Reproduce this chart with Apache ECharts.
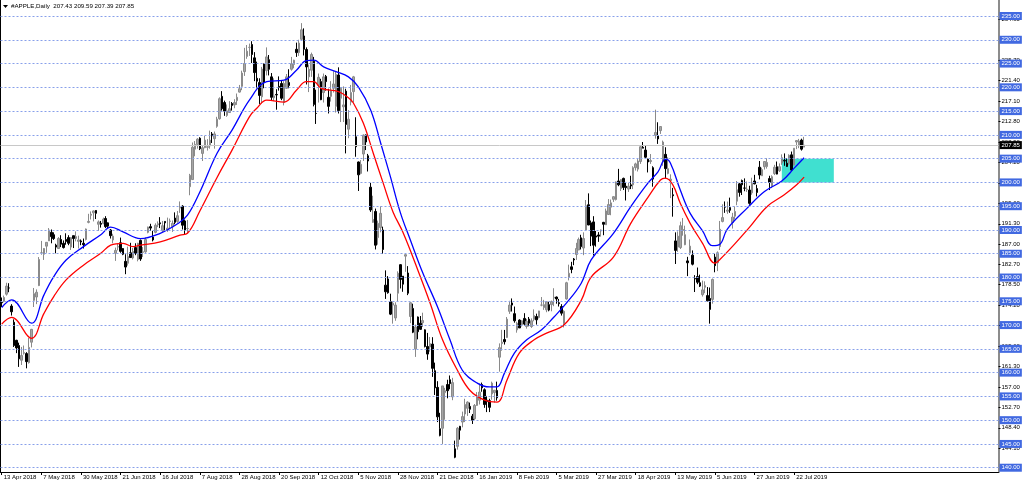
<!DOCTYPE html>
<html><head><meta charset="utf-8">
<script src="https://cdn.jsdelivr.net/npm/echarts@6/dist/echarts.min.js"></script>
<style>html,body{margin:0;padding:0;background:#fff}#c{width:1024px;height:484px}</style>
</head><body><div id="c"></div>
<script>
const titleText = '#APPLE,Daily  207.43 209.59 207.39 207.85';
const xTickLabels = ['13 Apr 2018','7 May 2018','30 May 2018','21 Jun 2018','16 Jul 2018','7 Aug 2018','28 Aug 2018','20 Sep 2018','12 Oct 2018','5 Nov 2018','28 Nov 2018','21 Dec 2018','16 Jan 2019','8 Feb 2019','5 Mar 2019','27 Mar 2019','18 Apr 2019','13 May 2019','5 Jun 2019','27 Jun 2019','22 Jul 2019'];
const tickEvery = 16;
const slotCount = 403;
// [open, high, low, close]
const bars2018 = [
[174.8,175.8,173.8,174.7],[175.0,176.2,174.8,175.8],[176.5,178.9,176.2,178.2],[177.8,178.8,176.9,177.8],[174.0,174.4,172.0,172.8],
[170.6,171.2,165.4,165.7],[166.8,166.9,164.1,165.2],[165.7,166.3,161.2,162.9],[162.6,165.4,161.6,163.6],[164.1,165.7,163.8,164.2],
[164.0,164.3,160.9,162.3],[162.1,167.3,161.9,165.3],[166.4,169.2,165.3,169.1],[175.2,177.8,173.8,176.6],[175.9,177.5,174.4,176.9],
[178.3,184.3,178.2,183.8],[185.2,187.7,184.8,185.2],[184.9,186.2,183.7,186.1],[186.6,187.4,185.2,187.4],[187.7,190.4,187.7,190.0],
[189.5,190.1,187.2,188.6],[189.0,189.5,187.9,188.2],[186.8,187.1,185.1,186.4],[186.1,188.5,186.0,188.2],[188.0,188.9,186.4,187.0],
[187.2,187.8,186.1,186.3],[188.0,189.3,186.9,187.6],[188.4,188.9,186.8,187.2],[186.4,188.5,185.8,188.4],[188.8,188.8,186.2,188.2],
[188.2,189.7,187.6,188.6],[187.6,188.8,186.1,187.9],[187.7,188.0,186.8,187.5],[187.2,188.2,186.1,186.9],[188.0,190.3,187.8,190.2],
[191.6,193.4,191.4,191.8],[193.1,193.9,192.2,193.3],[193.6,194.1,191.8,194.0],[194.1,194.2,192.3,193.5],[191.2,192.0,189.8,191.7],
[191.4,191.9,190.5,191.2],[191.4,192.6,191.2,192.3],[192.4,192.9,190.4,190.7],[191.5,191.6,190.2,190.8],[190.0,190.2,188.2,188.8],
[187.9,189.2,187.2,188.7],[185.1,186.3,183.5,185.7],[186.4,187.2,185.7,186.5],[187.3,188.4,185.2,185.5],[186.1,186.2,184.7,184.9],
[183.4,184.9,180.7,182.2],[183.0,186.5,182.5,184.4],[185.2,187.3,184.2,184.2],[184.1,186.2,183.8,185.5],[186.3,187.2,184.7,185.1],
[183.8,187.3,183.4,187.2],[187.8,188.0,183.5,183.9],[185.3,186.4,184.3,185.4],[185.4,188.4,185.2,188.0],[189.5,190.7,189.3,190.6],
[190.7,191.3,189.8,190.4],[188.5,189.8,187.6,187.9],[189.5,191.4,189.3,191.0],[191.1,191.8,190.6,191.3],[191.5,192.7,190.4,191.3],
[189.8,191.9,189.5,190.9],[191.8,191.8,189.9,191.5],[190.0,192.6,189.6,190.4],[191.8,192.4,190.2,191.9],[190.7,192.0,189.6,191.4],
[192.5,193.7,191.2,191.6],[191.8,194.0,191.5,193.0],[194.6,196.0,193.6,194.8],[195.0,195.2,190.1,191.0],[191.9,192.2,189.1,189.9],
[190.3,192.1,189.3,190.3],[199.1,201.8,197.3,201.5],[200.6,208.4,200.5,207.4],[207.0,208.7,205.5,208.0],[208.0,209.3,207.1,209.1],
[209.3,209.5,206.8,207.1],[206.1,207.8,204.5,207.3],[207.3,209.8,207.2,208.9],[207.4,209.1,206.7,207.5],[207.7,210.9,207.1,208.9],
[210.2,210.6,208.3,209.8],[209.2,210.7,207.1,210.2],[211.8,213.8,211.5,213.3],[213.4,217.9,213.2,217.6],[218.1,219.2,215.1,215.5],
[216.8,217.2,214.0,215.0],[214.1,216.4,213.8,215.05],[214.7,217.1,214.6,215.5],[216.6,216.9,215.1,216.2],[216.3,217.5,215.6,216.8],
[217.2,218.7,216.3,217.9],[219.0,220.5,218.9,219.7],[220.2,223.5,219.4,223.0],[223.3,228.3,222.4,225.0],[226.5,228.9,226.0,227.6],
[228.4,229.2,226.6,228.4],[229.0,229.7,225.1,226.9],[226.2,227.4,221.3,223.1],[221.9,225.4,219.8,221.3],[221.0,221.9,216.5,218.3],
[218.0,224.3,216.6,223.85],[224.9,225.0,219.8,221.1],[223.5,228.4,222.5,226.4],[225.8,226.8,222.5,223.8],[222.2,223.0,217.3,217.9],
[217.8,221.9,217.1,218.2],[218.5,219.6,215.3,218.4],[220.2,222.3,219.3,220.0],[220.8,221.4,217.3,217.7],[216.8,221.3,216.2,220.8],
[219.8,222.8,219.7,222.2],[221.0,223.8,219.8,220.4],[223.8,226.4,223.5,224.95],[224.8,225.8,224.0,225.7],[228.0,229.4,226.4,227.3],
[227.3,230.0,226.6,229.3],[230.1,233.5,229.8,232.1],[230.8,232.4,226.7,228.0],[227.96,228.4,220.6,224.3],[222.2,224.8,219.0,223.8],
[223.6,227.3,222.2,226.9],[225.5,226.4,216.0,216.4],[214.5,219.5,212.3,214.5],[220.4,222.9,216.8,222.1],[221.2,221.8,217.3,217.4],
[218.9,222.9,216.8,222.2],[222.3,222.6,219.3,221.2],[217.9,219.7,214.5,216.0],[218.1,221.3,217.0,219.3],[219.8,223.4,218.9,220.7],
[216.0,223.3,214.7,222.7],[222.6,224.2,214.5,215.1],[217.7,220.0,212.7,219.8],[215.9,220.2,212.7,216.3],[219.2,219.7,206.1,212.2],
[211.2,215.2,209.3,213.3],[216.9,220.5,216.2,218.9],[219.1,222.4,216.8,222.2],[209.6,213.7,205.4,207.5],[204.3,204.4,198.2,201.6],
[201.9,204.7,201.7,203.8],[205.97,210.1,204.5,209.95],[209.98,210.1,206.8,208.5],[205.6,206.0,202.3,204.5],[199.0,199.9,193.8,194.2],
[191.6,197.2,191.5,192.2],[193.9,194.5,185.9,186.8],[188.4,191.97,186.9,191.4],[190.5,194.97,189.5,193.5],[190.0,190.7,184.99,185.9],
[178.4,181.5,175.5,177.0],[179.7,180.3,176.6,176.8],[174.9,176.6,172.1,172.3],[174.2,174.95,170.3,174.6],[171.5,174.8,170.9,174.2],
[176.7,181.3,174.9,180.9],[182.7,182.8,177.7,179.6],[180.3,180.3,177.0,178.6],[184.5,184.9,181.2,184.8],[180.95,182.4,176.3,176.7],
[171.8,174.8,170.4,174.7],[173.5,174.5,168.3,168.5],[165.0,170.1,163.3,169.6],[171.7,171.8,167.0,168.6],[170.4,171.9,169.0,169.1],
[170.5,172.6,169.6,170.95],[169.0,169.1,165.3,165.5],[165.5,168.35,162.7,163.9],[165.4,167.5,164.4,166.1],[166.0,167.45,159.1,160.9],
[160.4,162.1,155.3,156.8],[156.9,158.2,149.6,150.7],[148.2,151.55,146.6,146.8],[148.3,157.2,145.0,157.2],[155.8,156.8,150.1,156.2],
[157.5,158.5,154.6,156.2],[158.5,159.4,156.5,157.7]
];
const bars2019 = [
[154.9,158.9,154.2,157.9],[143.98,145.7,142.0,142.2],[144.5,148.55,143.8,148.3],[148.7,148.8,145.9,147.9],[149.6,151.8,148.5,150.75],
[151.3,154.5,149.6,153.3],[152.5,153.97,150.9,153.8],[152.9,153.7,151.5,152.3],[150.85,151.3,149.2,150.0],[150.3,153.4,150.05,153.1],
[153.1,155.9,153.0,154.9],[154.2,157.7,153.3,155.9],[157.5,157.9,155.98,156.8],[156.4,156.7,152.6,153.3],[154.2,155.1,151.7,153.9],
[154.1,154.5,151.7,152.7],[155.5,158.1,154.3,157.8],[155.8,156.3,153.7,156.3],[156.25,158.1,154.1,154.7],[163.25,166.15,160.2,165.25],
[166.1,169.0,164.6,166.4],[166.96,168.98,165.9,166.5],[167.4,171.7,167.3,171.25],[172.9,175.1,172.35,174.2],[174.65,175.6,172.85,174.2],
[172.4,173.9,170.5,170.9],[168.99,170.7,168.4,170.4],[171.05,171.2,169.4,169.4],[170.1,171.0,169.7,170.9],[171.4,172.5,169.9,170.2],
[169.7,171.3,169.25,170.8],[171.25,171.7,169.75,170.4],[169.7,171.4,169.4,170.9],[171.2,173.3,170.8,172.0],[171.8,172.4,170.1,171.1],
[171.6,173.0,171.4,172.97],[174.2,175.9,173.95,174.2],[173.7,175.3,173.2,174.3],[173.2,175.0,172.7,174.9],[174.3,174.9,172.9,173.15],
[174.3,175.15,172.9,174.97],[175.7,177.75,173.97,175.85],[175.9,176.0,174.5,175.5],[174.7,175.5,173.9,174.5],[173.9,174.4,172.0,172.5],
[170.3,173.1,169.5,172.9],[175.5,179.1,175.35,178.9],[180.0,182.7,179.4,180.9],[182.25,183.3,180.9,181.7],[183.9,184.1,182.6,183.7],
[184.85,187.3,183.7,186.1],[185.8,188.4,185.8,188.0],[188.35,188.99,185.9,186.5],[186.2,189.5,184.7,188.2],[190.0,196.3,189.8,195.1],
[195.3,197.7,191.0,191.05],[191.5,191.98,186.6,188.7],[191.7,192.9,184.6,186.8],[188.75,189.8,186.5,188.5],[188.95,189.55,187.5,188.7],
[189.8,190.1,188.6,190.0],[191.6,191.7,188.9,191.2],[191.1,194.5,191.05,194.0],[193.25,196.5,193.15,195.35],[194.8,196.4,193.1,195.7],
[196.45,197.1,195.9,197.0],[196.4,200.2,196.2,200.1],[200.3,202.85,199.2,199.5],[198.7,200.7,198.2,200.6],[200.85,201.0,198.4,198.95],
[199.2,200.1,196.2,198.9],[198.6,199.9,198.0,199.2],[199.5,201.4,198.6,199.25],[199.5,203.4,198.6,203.1],[203.1,204.15,202.5,203.9],
[202.8,204.9,202.3,204.5],[204.4,207.75,203.9,207.5],[207.4,208.5,207.2,207.2],[206.8,207.8,205.1,205.3],[204.9,205.0,202.1,204.3],
[204.4,205.97,203.9,204.6],[203.1,203.4,199.1,200.7],[209.9,215.3,209.2,210.5],[209.8,212.65,208.1,209.15],[210.9,211.8,210.2,211.75],
[204.3,208.8,203.5,208.5],[205.9,207.4,200.8,202.9],[201.9,205.3,201.7,202.9],[200.4,201.7,196.7,200.7],[197.4,198.85,192.8,197.2],
[187.7,189.5,182.85,185.7],[186.4,189.7,185.4,188.7],[186.3,191.75,186.0,190.9],[189.9,192.5,188.8,190.1],[186.9,190.9,186.8,189.0],
[183.5,184.35,180.3,183.1],[185.2,188.0,184.7,186.6],[184.7,185.7,182.55,182.8],[179.8,180.5,176.95,179.7],[180.2,182.1,178.6,179.0],
[178.9,180.6,178.0,178.2],[176.4,179.35,176.0,177.4],[177.95,179.2,176.7,178.3],[176.2,177.99,174.99,175.1],[175.6,177.9,170.3,173.3],
[175.4,179.8,174.5,179.6],[184.3,184.99,181.1,182.5],[183.1,185.5,181.35,185.2],[186.5,191.9,185.8,190.15],[191.8,195.4,191.6,192.6],
[194.9,196.0,193.6,194.8],[193.95,195.97,193.4,194.2],[194.7,196.8,193.6,194.15],[191.55,193.6,190.3,192.7],[192.9,194.96,192.2,193.9],
[196.05,200.3,195.2,198.45],[199.7,199.9,197.0,197.9],[200.4,200.6,197.35,199.5],[198.8,200.85,198.15,198.8],[198.5,200.2,198.0,198.6],
[198.4,199.3,195.3,195.6],[197.8,200.99,197.4,199.8],[200.3,201.6,199.6,199.7],[198.7,199.5,197.05,197.9],[203.2,204.5,200.65,201.55],
[201.4,203.1,201.35,202.7],[203.3,204.4,202.7,204.4],[203.35,205.1,202.9,204.2],[200.8,201.4,198.4,200.0],[199.2,201.5,198.8,201.2],
[201.85,203.7,201.55,203.2],[203.3,204.4,201.7,201.75],[202.45,204.0,202.2,203.3],[204.1,205.9,203.7,205.2],[204.6,206.1,203.5,204.5],
[204.05,205.1,203.3,203.35],[204.0,205.9,203.7,205.7],[205.8,206.5,202.4,202.6],[203.65,207.2,203.6,207.2],[208.5,208.9,207.0,208.8],
[207.7,209.15,207.2,208.7],[208.9,209.2,206.7,207.0],[207.43,209.59,207.39,207.85]
];
// [bar index, value]
const upperBand = [[0,173.7],[4,175.3],[12,170.4],[17,176.3],[21,180.2],[26,183.7],[33,186.5],[40,189.0],[44,190.6],[49,189.6],[56,188.2],[64,189.3],[71,191.3],[75,193.1],[80,198.0],[87,206.2],[93,211.0],[100,217.3],[107,221.2],[114,221.5],[119,223.6],[123,225.6],[126,225.7],[130,224.3],[135,223.3],[140,222.2],[144,220.1],[149,215.2],[153,208.3],[157,201.1],[161,193.6],[165,187.9],[170,181.0],[176,173.8],[181,166.9],[186,160.5],[192,157.8],[197,157.0],[200,157.0],[203,159.9],[207,164.1],[212,166.9],[218,169.0],[223,171.7],[228,174.6],[234,178.8],[238,183.7],[247,189.3],[254,194.9],[261,199.9],[265,202.2],[268,204.9],[270,204.1],[274,198.4],[278,193.5],[283,189.8],[287,186.7],[290,187.0],[293,190.2],[301,194.6],[308,198.1],[315,200.3],[320,203.0],[324,205.2]];
const lowerBand = [[0,170.2],[4,171.6],[12,167.2],[17,172.4],[21,176.0],[26,179.5],[33,182.6],[40,185.1],[44,186.8],[49,187.2],[53,186.5],[56,186.8],[64,187.5],[72,188.9],[75,189.3],[80,194.0],[87,201.1],[93,206.8],[100,213.8],[103,215.6],[107,217.3],[114,216.9],[119,219.4],[123,221.2],[126,221.2],[129,219.8],[136,219.1],[140,217.8],[142,216.7],[146,212.5],[150,206.2],[154,199.9],[158,193.8],[162,189.5],[168,181.6],[173,174.6],[178,166.9],[184,160.5],[189,156.3],[195,154.2],[200,153.8],[204,158.4],[209,164.1],[215,166.9],[220,168.3],[227,170.0],[234,175.2],[238,180.1],[247,184.3],[254,191.4],[261,196.9],[266,200.5],[268,200.9],[271,199.5],[274,195.6],[278,191.4],[283,187.2],[288,183.0],[290,183.8],[295,186.5],[302,190.6],[309,194.9],[316,197.4],[321,199.5],[324,201.1]];
const gridLevels = [140,145,150,155,160,165,170,175,180,185,190,195,200,205,210,215,220,225,230,235];
const scaleMarks = [144.10,148.40,152.70,157.00,161.30,165.60,169.90,174.20,178.50,182.70,187.00,191.30,195.60,199.90,204.20,208.50,212.80,217.10,221.40,225.70,234.30];
const lastPrice = 207.85;
const zone = {fromBar: 315, toBar: 336, top: 205, bottom: 200};

const bars = bars2018.concat(bars2019);
const cats = [];
for (let i = 0; i < slotCount; i++) cats.push(String(i));
const candleData = bars.map(b => [b[0], b[3], b[2], b[1]]);
const FONT = 'Liberation Sans';
const showTick = (idx) => idx % tickEvery === 0 && idx / tickEvery < xTickLabels.length;

const chart = echarts.init(document.getElementById('c'), null, {renderer: 'canvas'});
const markLines = gridLevels.map(v => ({
  yAxis: v,
  lineStyle: {color: '#88a0ea', type: [2, 2], width: 1},
  label: {show: true, position: 'end', formatter: v.toFixed(2), color: '#ffffff', backgroundColor: '#4169e1', padding: [1, 2, 1, 2], fontSize: 6, fontFamily: FONT, distance: 1}
}));
markLines.push({
  yAxis: lastPrice,
  lineStyle: {color: '#c8c8c8', type: 'solid', width: 1},
  label: {show: true, position: 'end', formatter: lastPrice.toFixed(2), color: '#ffffff', backgroundColor: '#000000', padding: [1, 2, 1, 2], fontSize: 6, fontFamily: FONT, distance: 1}
});

chart.setOption({
  animation: false,
  backgroundColor: '#ffffff',
  grid: {left: 0.5, right: 25.5, top: 0, bottom: 12, containLabel: false},
  graphic: [
    {type: 'polygon', shape: {points: [[3, 5], [8, 5], [5.5, 8]]}, style: {fill: '#000'}},
    {type: 'text', left: 11, top: 3, style: {text: titleText, fontSize: 6.2, fontFamily: FONT, fill: '#000'}}
  ],
  xAxis: {
    type: 'category', data: cats, boundaryGap: true,
    axisLine: {show: true, lineStyle: {color: '#000', width: 1}},
    axisTick: {show: true, alignWithLabel: true, interval: (i) => showTick(i), length: 3, lineStyle: {color: '#000'}},
    axisLabel: {interval: (i) => showTick(i), formatter: (v, i) => showTick(i) ? xTickLabels[i / tickEvery] : '',
      align: 'left', padding: [0, 0, 0, 2], fontSize: 6, fontFamily: FONT, color: '#000', margin: 2},
    splitLine: {show: false}
  },
  yAxis: [{
    type: 'value', position: 'right', min: 139.10, max: 238.365,
    axisLine: {show: true, lineStyle: {color: '#8c8c8c', width: 2}},
    axisTick: {show: true, customValues: scaleMarks, length: 2, lineStyle: {color: '#000'}},
    axisLabel: {show: true, customValues: scaleMarks, formatter: (v) => v.toFixed(2), fontSize: 6, fontFamily: FONT, color: '#000', margin: 3},
    splitLine: {show: false}
  }, {
    type: 'value', position: 'left', min: 139.10, max: 238.365,
    axisLine: {show: true, lineStyle: {color: '#000', width: 1}},
    axisTick: {show: false}, axisLabel: {show: false}, splitLine: {show: false}
  }],
  series: [{
    type: 'candlestick', data: candleData, barWidth: 2, clip: false,
    itemStyle: {color: '#a6a6a6', color0: '#000000', borderColor: '#8a8a8a', borderColor0: '#000000', borderWidth: 1},
    markLine: {silent: true, symbol: ['none', 'none'], animation: false, data: markLines},
    markArea: {silent: true, itemStyle: {color: '#40e0d0', opacity: 1},
      data: [[{coord: [zone.fromBar, zone.top]}, {coord: [zone.toBar, zone.bottom]}]]}
  }, {
    type: 'line', data: upperBand, smooth: 0.4, showSymbol: false, symbol: 'none', z: 3,
    lineStyle: {color: '#0000ff', width: 1.3}
  }, {
    type: 'line', data: lowerBand, smooth: 0.4, showSymbol: false, symbol: 'none', z: 3,
    lineStyle: {color: '#ff0000', width: 1.3}
  }]
});
</script></body></html>
